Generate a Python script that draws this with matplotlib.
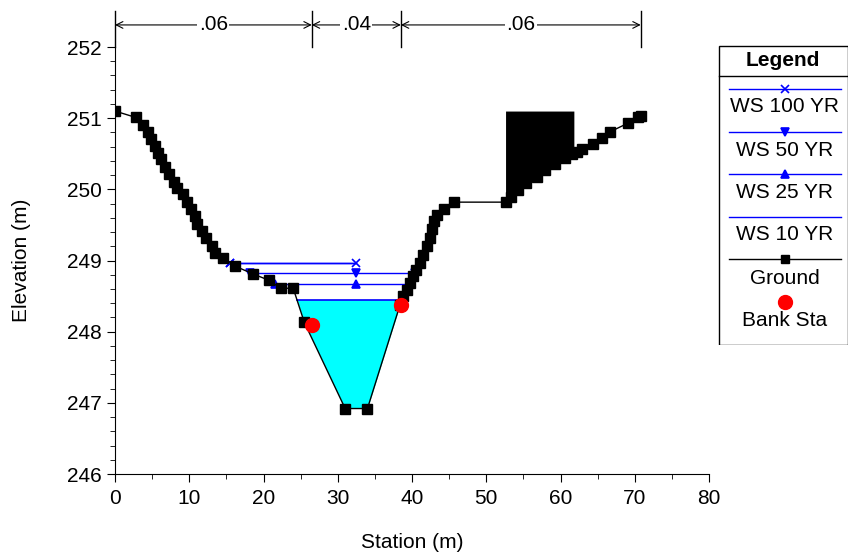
import numpy as np
import matplotlib
matplotlib.use('Agg')
from matplotlib import pyplot as plt
from matplotlib.patches import Rectangle
from matplotlib.ticker import MultipleLocator

plt.rcParams['font.family'] = ['Liberation Sans', 'DejaVu Sans']

# maanpinnan poikkileikkaus (station m, korkeus m)
asema = [0.0, 2.8, 3.8, 4.5, 4.9, 5.4, 5.8, 6.2, 6.8, 7.3, 7.9, 8.4, 9.2, 9.7, 10.2,
         10.8, 11.1, 11.7, 12.3, 13.0, 13.5, 14.6, 16.2, 18.6, 20.8, 22.3, 24.0, 25.5,
         31.0, 34.0, 38.4, 38.8, 39.3, 39.7, 40.2, 40.6, 41.1, 41.5, 42.0, 42.4, 42.7,
         42.9, 43.4, 44.3, 45.6, 52.6, 53.4, 54.3, 55.4, 56.8, 57.9, 59.2, 60.6, 61.6,
         62.2, 62.9, 64.4, 65.6, 66.7, 69.1, 70.5, 70.8]
korkeus = [251.10, 251.01, 250.91, 250.81, 250.71, 250.61, 250.51, 250.42, 250.31,
           250.22, 250.11, 250.02, 249.93, 249.82, 249.72, 249.62, 249.51, 249.42,
           249.32, 249.21, 249.11, 249.04, 248.92, 248.81, 248.72, 248.61, 248.61,
           248.13, 246.92, 246.92, 248.38, 248.50, 248.59, 248.69, 248.78, 248.87,
           248.97, 249.08, 249.20, 249.32, 249.44, 249.55, 249.64, 249.72, 249.82,
           249.82, 249.89, 249.99, 250.09, 250.17, 250.27, 250.35, 250.44, 250.50,
           250.52, 250.56, 250.63, 250.72, 250.81, 250.93, 251.01, 251.03]

# rantapenkat
penkka_x = [26.5, 38.5]
penkka_y = [248.09, 248.38]

# vedenpinnat
ws_nimet = ['WS 100 YR', 'WS 50 YR', 'WS 25 YR', 'WS 10 YR']
ws_tasot = [248.97, 248.83, 248.67, 248.45]
ws_merkit = ['x', 'v', '^', None]

# karkeuskertoimet ja niiden rajat
n_arvot = ['.06', '.04', '.06']
n_rajat = [0, 26.5, 38.5, 70.8]

# este (blocked obstruction)
este_alku = 52.6
este_loppu = 61.8
este_yla = 251.1

x = np.array(asema)
y = np.array(korkeus)


def reunat(taso):
    # etsitaan kohdat joissa vedenpinta leikkaa maanpinnan
    pisteet = []
    for i in range(len(x) - 1):
        a = y[i] - taso
        b = y[i + 1] - taso
        if a * b < 0:
            pisteet.append(x[i] + (x[i + 1] - x[i]) * a / (a - b))
    return pisteet[0], pisteet[-1]


fig = plt.figure(figsize=(8.49, 5.54), dpi=100)
ax = fig.add_axes([115 / 849, 1 - 474 / 554, 594 / 849, 427 / 554])

# alin vedenpinta taytetaan syaanilla
vasen, oikea = reunat(ws_tasot[-1])
xs = np.concatenate([[vasen], x[(x > vasen) & (x < oikea)], [oikea]])
ax.fill_between(xs, np.interp(xs, x, y), ws_tasot[-1], color='#00FFFF', lw=0, zorder=1)

# este
xe = np.concatenate([[este_alku], x[(x > este_alku) & (x < este_loppu)], [este_loppu]])
ax.fill_between(xe, np.interp(xe, x, y), este_yla, color='black', lw=0, zorder=2)

keski = np.mean(x[np.argsort(y)[:2]])
for nimi, taso, merkki in zip(ws_nimet, ws_tasot, ws_merkit):
    v, o = reunat(taso)
    if merkki is None:
        ax.plot([v, o], [taso, taso], color='#0000FF', lw=1.2, zorder=3)
    else:
        ax.plot([v, keski, o], [taso] * 3, color='#0000FF', lw=1, marker=merkki,
                ms=6, mew=1.2, zorder=3)

ax.plot(x, y, color='black', lw=1, marker='s', ms=6.5, zorder=4)
ax.plot(penkka_x, penkka_y, 'o', color='#FF0000', ms=10, zorder=5)

# karkeusmerkinnat ylareunaan
for raja in n_rajat:
    ax.plot([raja, raja], [252.0, 252.5], color='black', lw=1, clip_on=False)
for i, n in enumerate(n_arvot):
    a = n_rajat[i]
    b = n_rajat[i + 1]
    ax.annotate('', xy=(b, 252.31), xytext=(a, 252.31), annotation_clip=False,
                arrowprops=dict(arrowstyle='<->', color='black', lw=0.8,
                                shrinkA=0, shrinkB=0, mutation_scale=12))
    ax.text((a + b) / 2, 252.31, n, ha='center', va='center', fontsize=15,
            bbox=dict(facecolor='white', edgecolor='none', pad=1))

ax.set_xlim(0, 80)
ax.set_ylim(246, 252)
ax.xaxis.set_major_locator(MultipleLocator(10))
ax.xaxis.set_minor_locator(MultipleLocator(5))
ax.yaxis.set_major_locator(MultipleLocator(1))
ax.yaxis.set_minor_locator(MultipleLocator(0.2))
ax.spines['top'].set_visible(False)
ax.spines['right'].set_visible(False)
ax.tick_params(which='major', length=6, labelsize=15, direction='out')
ax.tick_params(axis='x', which='major', pad=5)
ax.tick_params(which='minor', length=3.5, direction='out')
ax.set_xlabel('Station (m)', fontsize=15, labelpad=18)
ax.set_ylabel('Elevation (m)', fontsize=15, labelpad=26)

# selite omaan laatikkoon
lax = fig.add_axes([718 / 849, 1 - 345 / 554, 130 / 849, 300 / 554])
lax.set_xlim(0, 130)
lax.set_ylim(300, 0)
lax.axis('off')
lax.add_patch(Rectangle((0.5, 0.5), 129, 299, fill=False, edgecolor='black', lw=1))
lax.plot([0.5, 129.5], [31, 31], color='black', lw=1)
lax.text(65, 15, 'Legend', ha='center', va='center', fontsize=15, fontweight='bold')

rivit = [44, 87, 129, 172]
for yy, nimi, merkki in zip(rivit, ws_nimet, ws_merkit):
    lax.plot([11, 123], [yy, yy], color='#0000FF', lw=1)
    if merkki is not None:
        lax.plot([67], [yy], marker=merkki, color='#0000FF', ms=6, mew=1.2)
    lax.text(67, yy + 18, nimi, ha='center', va='center', fontsize=15)
lax.plot([11, 123], [214, 214], color='black', lw=1)
lax.plot([67], [214], marker='s', color='black', ms=6)
lax.text(67, 234, 'Ground', ha='center', va='center', fontsize=15)
lax.plot([67], [257], 'o', color='#FF0000', ms=10)
lax.text(67, 276, 'Bank Sta', ha='center', va='center', fontsize=15)

plt.savefig('out.png', dpi=100)
